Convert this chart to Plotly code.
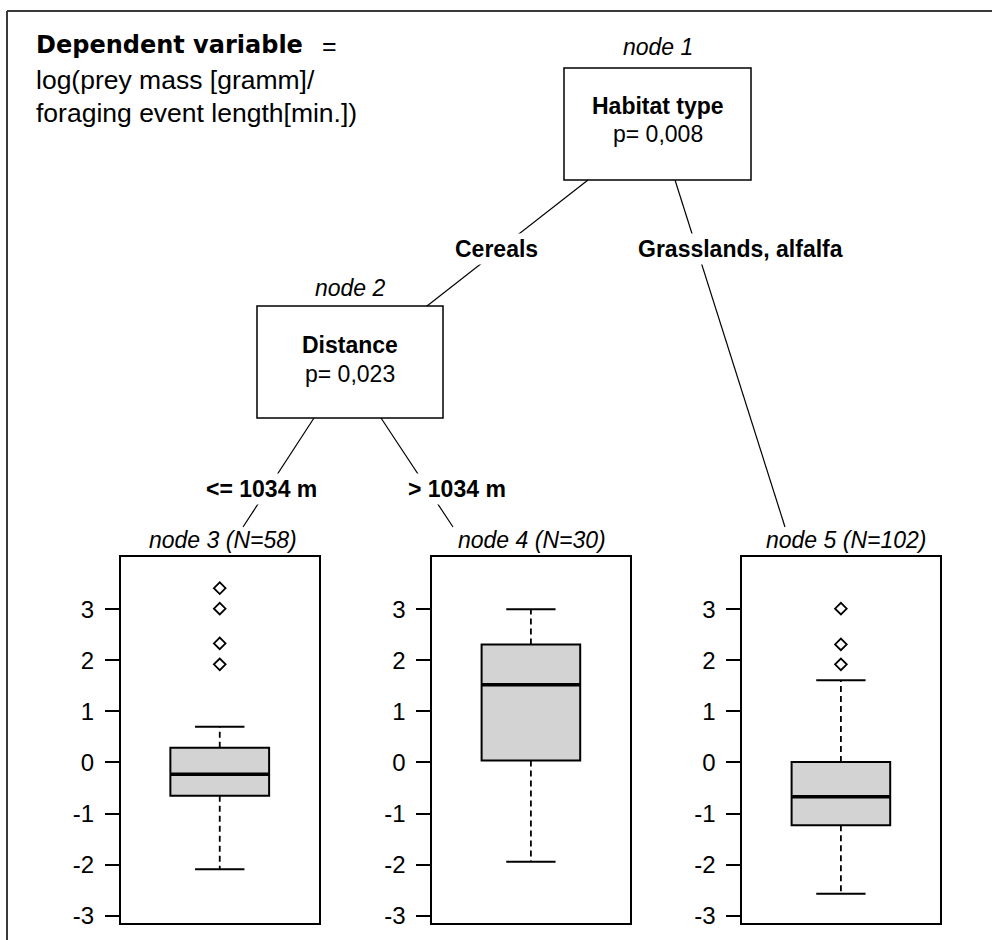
import plotly.graph_objects as go

# ---------------- data ----------------
terminal_nodes = ["node 3", "node 4", "node 5"]
n_obs = [58, 30, 102]
lower_whisker = [-2.09, -1.94, -2.57]
q1_vals = [-0.65, 0.04, -1.23]
median_vals = [-0.23, 1.52, -0.67]
q3_vals = [0.29, 2.31, 0.01]
upper_whisker = [0.70, 3.00, 1.61]
outlier_vals = [[3.41, 3.01, 2.33, 1.92], [], [3.01, 2.31, 1.92]]

inner_nodes = ["node 1", "node 2"]
split_vars = ["Habitat type", "Distance"]
p_values = ["0,008", "0,023"]
edge_labels = ["Cereals", "Grasslands, alfalfa", "<= 1034 m", "> 1034 m"]
y_ticks = [-3, -2, -1, 0, 1, 2, 3]

# ---------------- layout helpers ----------------
W, H = 992, 940
FONT = "Liberation Sans, Arial, sans-serif"
TICKFONT = dict(family=FONT, size=24, color="black")


def px(x):
    return x / W


def py(y):
    return 1 - y / H


fig = go.Figure()

panel_x = [(121, 318.5), (432.3, 629.5), (742.3, 939.5)]
panel_y = (557, 923)
y_range = [-3.14, 4.02]
label_x = [223, 532, 846]

for i in range(3):
    ax = "" if i == 0 else str(i + 1)
    xa, ya = "x" + ax, "y" + ax
    # box (quartiles + median)
    fig.add_trace(go.Box(
        x=[0], q1=[q1_vals[i]], median=[median_vals[i]], q3=[q3_vals[i]],
        lowerfence=[q1_vals[i]], upperfence=[q3_vals[i]],
        width=1, fillcolor="#d3d3d3", line=dict(color="black", width=2),
        whiskerwidth=0, xaxis=xa, yaxis=ya, showlegend=False, hoverinfo="skip"))
    # dashed whiskers
    fig.add_trace(go.Scatter(
        x=[0, 0, None, 0, 0],
        y=[q3_vals[i], upper_whisker[i], None, q1_vals[i], lower_whisker[i]],
        mode="lines", line=dict(color="black", width=1.8, dash="6px,4px"),
        xaxis=xa, yaxis=ya, showlegend=False, hoverinfo="skip"))
    # whisker caps
    fig.add_trace(go.Scatter(
        x=[-0.25, 0.25, None, -0.25, 0.25],
        y=[upper_whisker[i], upper_whisker[i], None, lower_whisker[i], lower_whisker[i]],
        mode="lines", line=dict(color="black", width=2),
        xaxis=xa, yaxis=ya, showlegend=False, hoverinfo="skip"))
    # thick median
    fig.add_trace(go.Scatter(
        x=[-0.5, 0.5], y=[median_vals[i], median_vals[i]],
        mode="lines", line=dict(color="black", width=3.5),
        xaxis=xa, yaxis=ya, showlegend=False, hoverinfo="skip"))
    # outliers
    if outlier_vals[i]:
        fig.add_trace(go.Scatter(
            x=[0] * len(outlier_vals[i]), y=outlier_vals[i], mode="markers",
            marker=dict(symbol="diamond-open", size=9, color="black",
                        line=dict(width=1.8, color="black")),
            xaxis=xa, yaxis=ya, showlegend=False, hoverinfo="skip"))

    x0, x1 = panel_x[i]
    fig.update_layout(**{
        "xaxis" + ax: dict(domain=[px(x0), px(x1)], range=[-1, 1], showgrid=False,
                           zeroline=False, showticklabels=False, ticks="",
                           showline=True, mirror=True, linecolor="black", linewidth=2,
                           fixedrange=True),
        "yaxis" + ax: dict(domain=[py(panel_y[1]), py(panel_y[0])], range=y_range,
                           anchor=xa, showgrid=False, zeroline=False,
                           tickmode="array", tickvals=y_ticks,
                           ticktext=[str(v) for v in y_ticks],
                           tickfont=TICKFONT,
                           ticks="outside", ticklen=14, tickwidth=1.5, tickcolor="black",
                           showline=True, mirror=True, linecolor="black", linewidth=2,
                           fixedrange=True),
    })
    if i > 0:
        fig.layout["xaxis" + ax].anchor = ya

shapes = []
# outer frame (top and left)
shapes.append(dict(type="line", xref="paper", yref="paper", x0=px(7), y0=py(11), x1=px(992), y1=py(11),
                   line=dict(color="#3a3a3a", width=2)))
shapes.append(dict(type="line", xref="paper", yref="paper", x0=px(7), y0=py(11), x1=px(7), y1=py(940),
                   line=dict(color="#3a3a3a", width=2)))
# inner node boxes
node_boxes = [(564, 68, 751, 180), (257, 306, 443, 418)]
for (a, b, c, d) in node_boxes:
    shapes.append(dict(type="rect", xref="paper", yref="paper", x0=px(a), y0=py(b), x1=px(c), y1=py(d),
                       line=dict(color="black", width=1.5), fillcolor="white", layer="below"))
# edges
edges = [(588, 180, 427, 306), (675, 180, 785, 527), (314, 418, 243, 527), (381, 418, 453, 527)]
for (a, b, c, d) in edges:
    shapes.append(dict(type="line", xref="paper", yref="paper", x0=px(a), y0=py(b), x1=px(c), y1=py(d),
                       line=dict(color="black", width=1.2)))

annotations = []


def ann(x, y, text, size=23, bold=False, italic=False, xanchor="center", family=FONT, bg=None):
    t = text
    if bold:
        t = "<b>" + t + "</b>"
    if italic:
        t = "<i>" + t + "</i>"
    d = dict(x=px(x), y=py(y), xref="paper", yref="paper", text=t, showarrow=False,
             xanchor=xanchor, yanchor="middle", font=dict(family=family, size=size, color="black"))
    if bg:
        d["bgcolor"] = bg
        d["borderpad"] = 2
    annotations.append(d)


# header text
ann(34, 45, "Dependent variable", size=24, bold=True, xanchor="left", family="DejaVu Sans, sans-serif")
ann(320, 46, "=", size=25, xanchor="left")
ann(34, 80, "log(prey mass [gramm]/", size=26.5, xanchor="left")
ann(34, 113, "foraging event length[min.])", size=26.5, xanchor="left")

# inner nodes
inner_pos = [(658, 47, 106, 134), (350, 288, 345, 374)]
for k in range(2):
    cx, yl, yv, yp = inner_pos[k]
    ann(cx, yl, inner_nodes[k], italic=True)
    ann(cx, yv, split_vars[k], bold=True)
    ann(cx, yp, "p= " + p_values[k])

# edge labels
edge_pos = [(496, 249), (740, 249), (261, 489), (457, 489)]
for k in range(4):
    ann(edge_pos[k][0], edge_pos[k][1], edge_labels[k], bold=True, bg="white")

# terminal node labels
for i in range(3):
    ann(label_x[i], 540, f"{terminal_nodes[i]} (N={n_obs[i]})", italic=True)

fig.update_layout(
    template="none",
    width=W, height=H, margin=dict(l=0, r=0, t=0, b=0),
    paper_bgcolor="white", plot_bgcolor="white",
    font=dict(family=FONT, size=24, color="black"),
    showlegend=False,
    shapes=shapes, annotations=annotations,
)
fig.update_yaxes(tickfont=TICKFONT, ticklabelstandoff=6)

fig.write_html("out.html")
